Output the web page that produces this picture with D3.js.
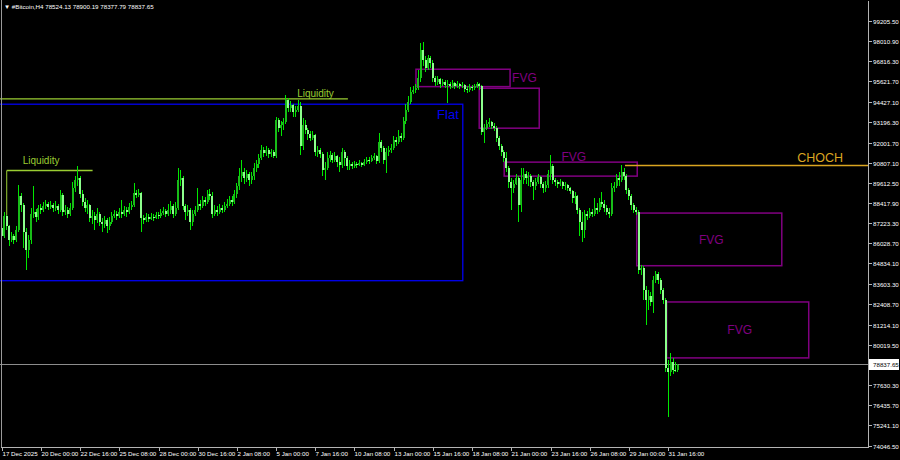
<!DOCTYPE html>
<html><head><meta charset="utf-8">
<script src="https://cdn.jsdelivr.net/npm/d3@7"></script>
<style>html,body{margin:0;padding:0;background:#000;overflow:hidden}svg{display:block}</style>
</head><body><svg id="c" width="900" height="460"></svg>
<script>
// ---------------- DATA (H4 bars) ----------------
const symbol = "#Bitcoin,H4";
const firstOpen = 86951;
const closes = [86478,87662,87070,86241,86478,86241,86833,88846,88313,86715,
85649,86241,87780,87899,87603,88135,88017,88254,88372,88195,
88313,88135,88254,88017,88905,87899,88017,87780,88135,89319,
89793,89911,88964,88491,88135,88313,87543,87662,87425,87780,
87307,87188,87425,87070,87307,87662,87780,87662,87899,87780,
88017,87899,88195,88313,89023,88905,89023,87543,87425,87603,
87484,87603,87543,87721,87662,87839,87958,87780,88017,88254,
87780,88135,89793,89911,88254,87899,88017,87307,87780,88017,
88372,88254,88609,88491,88964,88846,87780,88017,87899,88135,
88017,88254,88372,88609,88491,88964,89438,90030,90267,89911,
90148,89793,90030,90503,90740,91095,91569,91391,91569,91332,
91451,91214,93345,92871,93049,93227,94529,94055,94233,93819,
93937,94174,91806,93049,92753,92516,92279,92457,91451,91569,
91332,90385,90503,91095,91273,90977,91214,90859,90681,91451,
91095,90622,90740,90622,90740,90681,90799,90681,90859,90977,
90918,91095,91214,90918,92043,91687,90977,91451,91569,91687,
92161,92043,92398,92279,93286,93937,94411,95003,95121,95239,
95831,97489,96897,96423,97015,96719,95831,95595,95772,95476,
95595,95417,95476,95358,95535,95358,95476,95358,95417,95180,
95121,95299,95239,95358,95476,95358,92635,92871,93108,93227,
92990,92871,92279,91806,91451,91095,90503,89675,89319,89556,
89911,88313,89793,90148,89911,90030,89675,89438,89675,89971,
89556,89319,89497,90148,90622,89793,89675,89556,89675,89438,
89497,89319,89142,88727,88846,88017,87307,86833,87780,87662,
87899,87780,88135,88017,88491,88372,88135,87899,87780,89319,
89438,89911,89793,90267,90030,89201,88846,88313,88017,87899,
84465,84583,83281,82689,82926,82571,83873,84228,83873,83281,
82689,78663,78427,79019,78545,78524.13,78837.65];
const highs = [87307,87899,87721,87129,86715,86596,87070,89497,89023,88431,
86951,86537,88135,89438,88076,88313,88372,88491,88609,88491,
88550,88431,88550,88372,89201,89023,88313,88195,88431,89675,
90030,90622,90030,89201,88727,88609,88372,88017,87899,88135,
87899,87543,87662,87543,87603,87899,88017,87958,88135,88609,
88254,88195,88431,88550,89615,89201,89260,89083,87721,87839,
87780,87839,87780,87899,87899,88076,88195,88076,88372,88550,
88372,88491,90503,90385,90030,88372,88313,88135,88017,88254,
89319,88609,88846,88787,89201,89260,89083,88313,88254,88372,
88313,88491,88668,88846,88846,89201,89615,90503,90977,90503,
90385,90267,90267,90799,90977,91332,91865,91747,91806,91687,
91628,91569,93523,93463,93286,93463,94825,94647,94470,94292,
94174,94529,94411,93463,93345,92871,92694,92694,92516,91806,
91687,91451,90859,91451,91510,91391,91451,91273,91155,91687,
91569,91214,90977,90859,90918,90859,90977,90859,91036,91155,
91155,91273,91391,91273,92575,92161,91806,91687,91806,91924,
92398,92339,92753,92575,93523,94292,94766,95299,95358,95476,
96305,97903,97963,97134,97193,97134,96897,95950,95950,95831,
95772,95713,95713,95595,95713,95595,95654,95535,95595,95476,
95358,95476,95417,95476,95595,95535,95417,93108,93345,93463,
93286,93167,92990,92398,91924,91569,91451,90622,89911,89793,
90148,90030,90503,90503,90326,90267,90148,89793,89911,90148,
90030,89675,89734,90385,91273,90740,89911,89793,89852,89734,
89675,89556,89379,89201,89083,88905,88135,87899,88017,87958,
88135,88076,88727,88431,88727,89083,88609,88313,88135,89615,
89675,90148,90267,90681,90503,90148,89319,88964,88431,88195,
88017,84761,84702,83517,83281,83163,84110,84406,84347,83991,
83399,82807,79137,79551,79255,79019,78900.19];
const lows = [86241,86359,86833,85886,86123,86004,86123,86715,87899,85767,
84465,85175,86004,87543,87307,87425,87780,87899,88076,88017,
88076,87899,87958,87780,87899,87662,87721,87543,87662,88017,
89083,89438,88727,88254,87899,87780,87307,87188,86833,87247,
87070,86715,86951,86655,86833,87188,87543,87425,87543,87543,
87662,87603,87780,88017,88195,88727,88787,86715,87188,87307,
87307,87425,87366,87484,87484,87543,87721,87603,87662,87780,
87543,87662,88017,89438,88017,87425,87662,86833,87070,87662,
87899,88017,88135,88254,88372,88609,87543,87662,87662,87780,
87839,87899,88135,88254,88254,88372,88727,89201,89675,89556,
89675,89438,89556,89793,90267,90503,90977,91155,91214,91095,
91155,91095,91095,92635,92398,92753,93108,93819,93819,93523,
93523,93819,91273,91569,92516,92161,92102,92161,91214,91155,
91095,90030,89793,90385,90859,90799,90859,90563,90267,90503,
90622,90385,90385,90444,90503,90503,90622,90563,90622,90740,
90740,90859,90977,90740,90799,91451,90740,90207,91214,91391,
91569,91806,91924,92043,92161,93108,93819,94292,94884,94943,
95121,95595,96542,96187,96305,96423,95595,95358,95417,95239,
95358,95239,94351,95180,95239,95180,95239,95180,95239,95003,
94943,95003,95062,95121,95239,95121,92457,91983,92753,92931,
92812,92694,92043,91569,91214,90859,90267,89319,88017,89023,
89497,87307,87899,89556,89556,89438,89379,88609,89201,89556,
89319,89023,89083,89319,89793,89556,89438,89319,89438,89260,
89201,89142,88964,88431,88372,87780,86478,86123,86359,87425,
87543,87603,87662,87780,87899,88195,87899,87721,87543,87662,
89083,89319,89438,89675,89793,88964,88609,88017,87839,87721,
84228,84169,82689,81209,82097,82334,81919,83695,83636,83044,
82452,78427,75762,78190,78309,78427,78377.79];
const priceTicks = [99205.50,98010.90,96816.30,95621.70,94427.10,93196.30,92001.70,90807.10,89612.50,88417.90,87223.30,86028.70,84834.10,83603.30,82408.70,81214.10,80019.50,77630.30,76435.70,75241.10,74046.50];
const timeLabels = ["17 Dec 2025","20 Dec 00:00","22 Dec 16:00","25 Dec 08:00","28 Dec 00:00","30 Dec 16:00","2 Jan 08:00","5 Jan 00:00","7 Jan 16:00","10 Jan 08:00","13 Jan 00:00","15 Jan 16:00","18 Jan 08:00","21 Jan 00:00","23 Jan 16:00","26 Jan 08:00","29 Jan 00:00","31 Jan 16:00"];
const barsPerLabel = 16;
// FVG zones: [fromBar, toBar, top, bottom]
const fvgFrom = [169.1, 194.9, 205.1, 259.2, 271.4];
const fvgTo   = [207.5, 219.4, 259.4, 318.4, 329.4];
const fvgTop  = [96346, 95222, 90841, 87822, 82553];
const fvgBot  = [95316, 92853, 90012, 84702, 79238];
const flatZone = {from:-6, to:188.2, top:94274, bottom:83814};
const liquidity1 = {from:2.05, to:37.1, level:90344, base:87662};
const liquidity2 = {from:-6, to:141.3, level:94588};
const chochFrom = 254.4, chochLevel = 90640;

// ---------------- CHART ----------------
const svg = d3.select("#c");
const plotR = 868, plotB = 447;
const x = d3.scaleLinear().domain([0, 276]).range([1.7, 677.9]);
const y = d3.scaleLinear().domain([74046.5, 99205.5]).range([445.5, 21]);
const font = "'Liberation Sans', Arial, sans-serif";

svg.append("rect").attr("width",900).attr("height",460).attr("fill","#000");
svg.append("clipPath").attr("id","clip").append("rect").attr("x",0).attr("y",0).attr("width",plotR).attr("height",plotB);
const g = svg.append("g").attr("clip-path","url(#clip)");

const bars = closes.map((c,i)=>({i, o: i===0?firstOpen:closes[i-1], h:highs[i], l:lows[i], c}));
const last = bars[bars.length-1];

// current price line
g.append("line").attr("x1",0).attr("x2",plotR).attr("y1",Math.round(y(last.c))-0.5).attr("y2",Math.round(y(last.c))-0.5)
  .attr("stroke","#8c8c8c").attr("stroke-width",1);

// Flat zone
g.append("rect").attr("x",x(flatZone.from)).attr("y",y(flatZone.top))
  .attr("width",x(flatZone.to)-x(flatZone.from)).attr("height",y(flatZone.bottom)-y(flatZone.top))
  .attr("fill","none").attr("stroke","#0000f0").attr("stroke-width",1.3);
// Liquidity lines
g.append("line").attr("x1",x(liquidity2.from)).attr("x2",x(liquidity2.to)).attr("y1",y(liquidity2.level)).attr("y2",y(liquidity2.level))
  .attr("stroke","#9acd32").attr("stroke-width",1.3);
g.append("line").attr("x1",x(liquidity1.from)).attr("x2",x(liquidity1.to)).attr("y1",y(liquidity1.level)).attr("y2",y(liquidity1.level))
  .attr("stroke","#9acd32").attr("stroke-width",1.3);
g.append("line").attr("x1",x(liquidity1.from)).attr("x2",x(liquidity1.from)).attr("y1",y(liquidity1.level)).attr("y2",y(liquidity1.base))
  .attr("stroke","#9acd32").attr("stroke-width",1);
// FVG boxes
fvgFrom.forEach((f,k)=>{
  g.append("rect").attr("x",x(f)).attr("y",y(fvgTop[k])).attr("width",x(fvgTo[k])-x(f)).attr("height",y(fvgBot[k])-y(fvgTop[k]))
   .attr("fill","none").attr("stroke","#800080").attr("stroke-width",1.5);
});
// CHOCH line
g.append("line").attr("x1",x(chochFrom)).attr("x2",plotR).attr("y1",y(chochLevel)).attr("y2",y(chochLevel))
  .attr("stroke","#daa520").attr("stroke-width",1.5);

// candles
const cg = g.append("g").attr("shape-rendering","crispEdges");
cg.selectAll("line.w").data(bars).join("line").attr("class","w")
  .attr("x1",d=>x(d.i)).attr("x2",d=>x(d.i))
  .attr("y1",d=>y(Math.max(d.h,d.o,d.c))).attr("y2",d=>y(Math.min(d.l,d.o,d.c)))
  .attr("stroke","#00e800").attr("stroke-width",1);
cg.selectAll("rect.b").data(bars).join("rect").attr("class","b")
  .attr("x",d=>x(d.i)-1).attr("width",2)
  .attr("y",d=>y(Math.max(d.o,d.c)))
  .attr("height",d=>Math.max(1, Math.abs(y(d.o)-y(d.c))))
  .attr("fill",d=>d.c>=d.o?"#18bc18":"#8cff8c");

// annotation texts
const tg = svg.append("g").attr("font-family",font);
tg.append("text").attr("x",x(liquidity1.from)+16).attr("y",y(liquidity1.level)-7).attr("fill","#9acd32").attr("font-size",10).text("Liquidity");
tg.append("text").attr("x",x(141.3)-14).attr("y",y(liquidity2.level)-2).attr("fill","#9acd32").attr("font-size",10).attr("text-anchor","end").text("Liquidity");
tg.append("text").attr("x",x(flatZone.to)-4).attr("y",y(flatZone.top)+15).attr("fill","#0000f0").attr("font-size",13).attr("text-anchor","end").text("Flat");
tg.append("text").attr("x",x(fvgTo[0])+2).attr("y",(y(fvgTop[0])+y(fvgBot[0]))/2+4.5).attr("fill","#800080").attr("font-size",12).text("FVG");
tg.append("text").attr("x",(x(fvgFrom[2])+x(fvgTo[2]))/2+3).attr("y",y(fvgTop[2])-1).attr("fill","#800080").attr("font-size",12).attr("text-anchor","middle").text("FVG");
[3,4].forEach(k=>{
  tg.append("text").attr("x",(x(fvgFrom[k])+x(fvgTo[k]))/2+2).attr("y",(y(fvgTop[k])+y(fvgBot[k]))/2+4.5)
    .attr("fill","#800080").attr("font-size",12).attr("text-anchor","middle").text("FVG");
});
tg.append("text").attr("x",843).attr("y",y(chochLevel)-4).attr("fill","#daa520").attr("font-size",12.5).attr("text-anchor","end").text("CHOCH");

// axes frame
const ax = svg.append("g").attr("shape-rendering","crispEdges");
ax.append("line").attr("x1",1.5).attr("x2",1.5).attr("y1",0).attr("y2",plotB).attr("stroke","#9a9a9a");
ax.append("line").attr("x1",plotR+0.5).attr("x2",plotR+0.5).attr("y1",1).attr("y2",plotB).attr("stroke","#b4b4b4");
ax.append("line").attr("x1",1).attr("x2",plotR+1).attr("y1",plotB+0.5).attr("y2",plotB+0.5).attr("stroke","#b4b4b4");

// price axis
const pa = svg.append("g").attr("font-family",font).attr("font-size",6.2).attr("fill","#ffffff");
priceTicks.forEach(v=>{
  const yy = Math.round(y(v))+0.5;
  ax.append("line").attr("x1",plotR).attr("x2",plotR+4).attr("y1",yy).attr("y2",yy).attr("stroke","#b4b4b4");
  pa.append("text").attr("x",plotR+5).attr("y",yy+2.2).text(v.toFixed(2));
});
// current price label
const cy = Math.round(y(last.c))-0.5;
svg.append("rect").attr("x",plotR+1).attr("y",cy-5.5).attr("width",30).attr("height",11).attr("fill","#ffffff");
svg.append("text").attr("x",plotR+5).attr("y",cy+2.2).attr("font-family",font).attr("font-size",6.2).attr("fill","#000").text(last.c.toFixed(2));

// time axis
const ta = svg.append("g").attr("font-family",font).attr("font-size",6.2).attr("fill","#ffffff");
timeLabels.forEach((t,k)=>{
  const xx = Math.round(x(k*barsPerLabel))+0.5;
  ax.append("line").attr("x1",xx).attr("x2",xx).attr("y1",plotB).attr("y2",plotB+4).attr("stroke","#b4b4b4");
  ta.append("text").attr("x",xx).attr("y",456).text(t);
});

// title
svg.append("text").attr("x",4).attr("y",8.5).attr("font-family",font).attr("font-size",6.2).attr("fill","#ffffff")
  .text("\u25BC " + symbol + "  " + [last.o,last.h,last.l,last.c].map(v=>v.toFixed(2)).join(" "));
</script></body></html>
